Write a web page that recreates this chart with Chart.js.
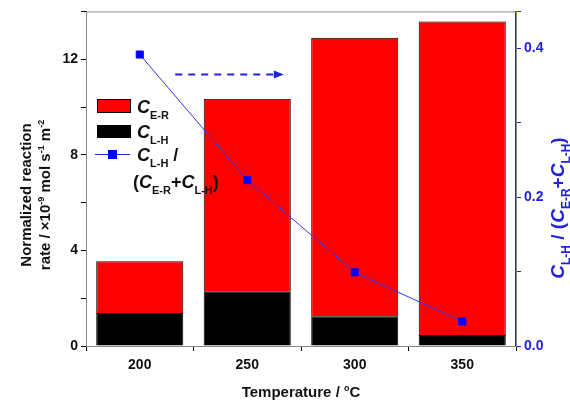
<!DOCTYPE html>
<html>
<head>
<meta charset="utf-8">
<script src="https://cdn.jsdelivr.net/npm/chart.js@4"></script>
<style>
  html, body { margin: 0; padding: 0; background: #fff; }
  #wrap { width: 570px; height: 402px; }
</style>
</head>
<body>
<div id="wrap"><canvas id="chart" width="570" height="402"></canvas></div>
<script>
const temps = ['200', '250', '300', '350'];
const rateLH = [1.38, 2.29, 1.25, 0.46];
const rateER = [2.17, 8.06, 11.65, 13.12];
const ratioLH = [0.392, 0.223, 0.099, 0.033];

const BLUE = '#2222dd';
const FONT = '"Liberation Sans", Arial, sans-serif';

// draws text made of normal / italic / sub / sup pieces
function drawRich(ctx, segs, x, y, size, color, align) {
  const fontOf = m => {
    if (m === 'i') return `italic bold ${size}px ${FONT}`;
    if (m === 'sub' || m === 'sup') return `bold ${Math.round(size * 0.62)}px ${FONT}`;
    return `bold ${size}px ${FONT}`;
  };
  let total = 0;
  const widths = segs.map(s => { ctx.font = fontOf(s[1]); const w = ctx.measureText(s[0]).width; total += w; return w; });
  let cx = align === 'center' ? x - total / 2 : x;
  ctx.fillStyle = color;
  ctx.textBaseline = 'alphabetic';
  ctx.textAlign = 'left';
  segs.forEach((s, i) => {
    ctx.font = fontOf(s[1]);
    let dy = 0;
    if (s[1] === 'sub') dy = size * 0.32;
    if (s[1] === 'sup') dy = -size * 0.42;
    ctx.fillText(s[0], cx, y + dy);
    cx += widths[i];
  });
}

const extras = {
  id: 'extras',
  beforeDatasetsDraw(chart) {
    const ctx = chart.ctx, a = chart.chartArea;
    ctx.save();
    ctx.strokeStyle = '#888';
    ctx.lineWidth = 1;
    ctx.strokeRect(a.left + 0.5, a.top + 0.5, a.right - a.left, a.bottom - a.top);
    ctx.restore();
  },
  afterDraw(chart) {
    const ctx = chart.ctx, a = chart.chartArea;
    const xs = chart.scales.x, ys = chart.scales.y;
    ctx.save();

    // left title
    ctx.save();
    ctx.translate(31, 195);
    ctx.rotate(-Math.PI / 2);
    drawRich(ctx, [['Normalized reaction', '']], 0, 0, 15, '#111', 'center');
    ctx.restore();
    ctx.save();
    ctx.translate(50, 195);
    ctx.rotate(-Math.PI / 2);
    drawRich(ctx, [['rate / \u00d710', ''], ['-9', 'sup'], [' mol s', ''], ['-1', 'sup'], [' m', ''], ['-2', 'sup']], 0, 0, 15, '#111', 'center');
    ctx.restore();

    // right title, runs off the canvas edge like the original
    ctx.save();
    ctx.translate(564, 208);
    ctx.rotate(-Math.PI / 2);
    drawRich(ctx, [['C', 'i'], ['L-H', 'sub'], [' / (', ''], ['C', 'i'], ['E-R', 'sub'], ['+', ''], ['C', 'i'], ['L-H', 'sub'], [')', '']], 0, 0, 19, BLUE, 'center');
    ctx.restore();

    // bottom title
    drawRich(ctx, [['Temperature / ', ''], ['o', 'sup'], ['C', '']], (a.left + a.right) / 2, 397, 15, '#111', 'center');

    // legend
    ctx.fillStyle = '#ff0000';
    ctx.fillRect(97, 99, 34, 14);
    ctx.strokeStyle = '#000';
    ctx.lineWidth = 1;
    ctx.strokeRect(97.5, 99.5, 33, 13);
    ctx.fillStyle = '#000';
    ctx.fillRect(97, 125, 34, 13);
    drawRich(ctx, [['C', 'i'], ['E-R', 'sub']], 137, 113, 18, '#111', 'left');
    drawRich(ctx, [['C', 'i'], ['L-H', 'sub']], 137, 138, 18, '#111', 'left');
    ctx.strokeStyle = BLUE;
    ctx.lineWidth = 1;
    ctx.beginPath(); ctx.moveTo(95, 154.5); ctx.lineTo(130, 154.5); ctx.stroke();
    ctx.fillStyle = '#0000ff';
    ctx.fillRect(108, 150, 9, 9);
    drawRich(ctx, [['C', 'i'], ['L-H', 'sub'], [' /', '']], 137, 161, 18, '#111', 'left');
    drawRich(ctx, [['(', ''], ['C', 'i'], ['E-R', 'sub'], ['+', ''], ['C', 'i'], ['L-H', 'sub'], [')', '']], 133, 188, 18, '#111', 'left');

    // dashed arrow
    const x0 = xs.getPixelForValue(0.33), x1 = xs.getPixelForValue(1.34);
    const yA = Math.round(ys.getPixelForValue(11.4)) + 0.5;
    ctx.strokeStyle = BLUE;
    ctx.lineWidth = 2;
    ctx.setLineDash([7, 6]);
    ctx.beginPath(); ctx.moveTo(x0, yA); ctx.lineTo(x1 - 8, yA); ctx.stroke();
    ctx.setLineDash([]);
    ctx.fillStyle = BLUE;
    ctx.beginPath(); ctx.moveTo(x1, yA); ctx.lineTo(x1 - 10, yA - 4); ctx.lineTo(x1 - 10, yA + 4); ctx.closePath(); ctx.fill();
    ctx.restore();
  }
};

new Chart(document.getElementById('chart'), {
  data: {
    labels: temps,
    datasets: [
      { type: 'line', data: ratioLH, yAxisID: 'y2', order: 0, borderColor: '#3333ee', borderWidth: 1,
        pointStyle: 'rect', pointRadius: 5, pointBackgroundColor: '#0000ff', pointBorderColor: '#0000ff', tension: 0 },
      { type: 'bar', data: rateLH, yAxisID: 'y', order: 1, backgroundColor: '#000', borderColor: '#000', borderWidth: 1,
        categoryPercentage: 1, barPercentage: 0.81 },
      { type: 'bar', data: rateER, yAxisID: 'y', order: 1, backgroundColor: '#ff0000', borderColor: '#000', borderWidth: 1,
        categoryPercentage: 1, barPercentage: 0.81 }
    ]
  },
  options: {
    responsive: false,
    animation: false,
    layout: { padding: { top: 10, left: 0, right: 0, bottom: 0 } },
    plugins: { legend: { display: false }, tooltip: { enabled: false } },
    scales: {
      x: {
        stacked: true,
        offset: true,
        grid: { offset: true, drawOnChartArea: false, tickLength: 5, color: '#000' },
        border: { color: '#000', width: 1 },
        ticks: { color: '#111', font: { family: FONT, size: 14, weight: 'bold' }, padding: 6, maxRotation: 0 },
        afterFit(s) { s.height = 56; }
      },
      y: {
        stacked: true,
        position: 'left',
        min: 0, max: 14,
        grid: { drawOnChartArea: false, tickLength: 5, color: '#000' },
        border: { color: '#000', width: 1 },
        ticks: { stepSize: 2, color: '#111', font: { family: FONT, size: 14, weight: 'bold' }, padding: 3,
          callback: v => (v % 4 === 0 ? v : '') },
        afterFit(s) { s.width = 86; }
      },
      y2: {
        position: 'right',
        min: 0, max: 0.45,
        grid: { drawOnChartArea: false, tickLength: 5, color: BLUE },
        border: { color: BLUE, width: 1.5 },
        ticks: { stepSize: 0.1, color: BLUE, font: { family: FONT, size: 14, weight: 'bold' }, padding: 3,
          callback: v => (Math.round(v * 10) % 2 === 0 ? v.toFixed(1) : '') },
        afterFit(s) { s.width = 54; }
      }
    }
  },
  plugins: [extras]
});
</script>
</body>
</html>
